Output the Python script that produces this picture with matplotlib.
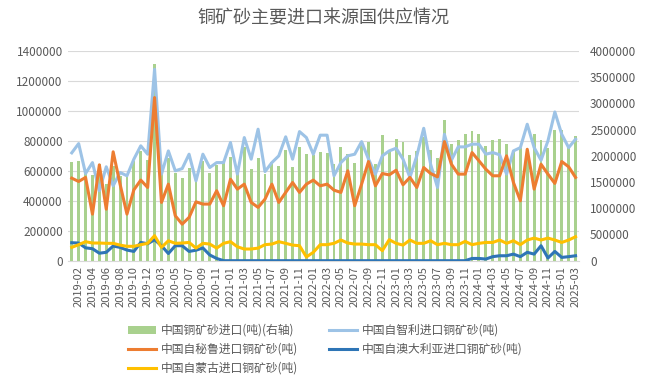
import matplotlib
matplotlib.use("Agg")
import matplotlib.pyplot as plt
import pandas as pd

plt.rcParams['font.family'] = ['Noto Sans CJK SC', 'DejaVu Sans']

# months, Jan+Feb 2020 reported together
months = [p.strftime('%Y-%m') for p in pd.period_range('2019-01', '2025-03', freq='M')]
months.remove('2020-01')

# 中国铜矿砂进口 (吨, 右轴)
total = [1880000, 1910000, 1650000, 1630000, 1850000, 1460000, 1800000, 1620000, 1600000, 1900000,
         2100000, 1920000, 3750000, 1700000, 1950000, 1670000, 1580000, 1770000, 1500000, 1900000,
         1670000, 1820000, 1910000, 1980000, 1660000, 2170000, 1750000, 1950000, 1660000, 1880000,
         1800000, 2110000, 1790000, 2170000, 2040000, 2010000, 2070000, 2050000, 1850000, 2160000,
         2040000, 1870000, 2230000, 2260000, 1850000, 2390000, 2110000, 2330000, 2260000, 2010000,
         2100000, 2360000, 2110000, 1950000, 2680000, 2220000, 2300000, 2420000, 2480000, 2420000,
         2180000, 2310000, 2330000, 2230000, 2100000, 2150000, 2120000, 2410000, 2300000, 2150000,
         2500000, 2500000, 2200000, 2370000]

chile = [720, 782, 582, 655, 467, 627, 500, 589, 567, 678,
         767, 711, 1278, 578, 733, 600, 615, 711, 533, 711,
         622, 655, 655, 789, 578, 822, 678, 878, 595, 655,
         700, 827, 678, 862, 822, 711, 838, 838, 567, 655,
         700, 711, 795, 678, 578, 700, 733, 751, 678, 556,
         700, 884, 644, 489, 844, 670, 760, 760, 778, 778,
         711, 722, 707, 578, 733, 755, 911, 755, 671, 800,
         993, 844, 755, 811]

peru = [551, 529, 556, 311, 640, 344, 727, 511, 311, 473,
        538, 489, 1089, 389, 511, 300, 244, 289, 393, 378,
        378, 467, 367, 544, 478, 511, 389, 356, 411, 511,
        389, 456, 522, 456, 511, 538, 500, 511, 471, 456,
        600, 367, 511, 662, 500, 582, 573, 604, 507, 556,
        489, 622, 582, 560, 795, 645, 578, 578, 722, 667,
        611, 567, 567, 700, 522, 400, 744, 478, 644, 578,
        516, 662, 627, 556]

australia = [120, 118, 86, 80, 50, 56, 98, 89, 71, 62,
             122, 113, 140, 100, 48, 100, 100, 62, 70, 85,
             38, 15, 0, 0, 0, 0, 0, 0, 0, 0,
             0, 0, 0, 0, 0, 0, 0, 0, 0, 0,
             0, 0, 0, 0, 0, 0, 0, 0, 0, 0,
             0, 0, 0, 0, 0, 0, 0, 0, 15, 15,
             11, 27, 33, 33, 44, 27, 56, 44, 100, 18,
             62, 22, 27, 33]

mongolia = [89, 107, 127, 118, 118, 116, 116, 104, 96, 96,
            107, 116, 167, 89, 133, 116, 118, 122, 84, 116,
            111, 84, 116, 127, 93, 78, 78, 84, 107, 111,
            127, 116, 104, 100, 25, 56, 107, 107, 116, 138,
            118, 111, 111, 107, 107, 67, 140, 116, 104, 138,
            116, 116, 133, 107, 116, 107, 107, 129, 107, 116,
            122, 122, 138, 116, 133, 107, 138, 151, 138, 151,
            138, 122, 138, 160]

# line series were read in thousand tonnes
chile = [v * 1000 for v in chile]
peru = [v * 1000 for v in peru]
australia = [v * 1000 for v in australia]
mongolia = [v * 1000 for v in mongolia]

grey = '#595959'
x = list(range(len(months)))

fig = plt.figure(figsize=(6.46, 3.89), dpi=100)
ax = fig.add_axes([68.3 / 646, 1 - 260.7 / 389, (579 - 68.3) / 646, (260.7 - 51) / 389])
ax_bar = ax.twinx()
ax_line = ax.twinx()

# grid + left scale
ax.set_ylim(0, 1400000)
ax.set_yticks(range(0, 1400001, 200000))
ax.ticklabel_format(axis='y', style='plain', useOffset=False)
ax.grid(axis='y', color='#D9D9D9', linewidth=0.8)
ax.tick_params(axis='y', length=0, labelsize=8.5, colors=grey, pad=4)

# bars on the right axis
bars = ax_bar.bar(x, total, width=0.42, color='#A9D18E', label='中国铜矿砂进口(吨)(右轴)')
ax_bar.set_ylim(0, 4000000)
ax_bar.set_yticks(range(0, 4000001, 500000))
ax_bar.ticklabel_format(axis='y', style='plain', useOffset=False)
ax_bar.tick_params(axis='y', length=0, labelsize=8.5, colors=grey, pad=8)

# lines on top, left scale
lw = 2.2
l_chile, = ax_line.plot(x, chile, color='#9DC3E6', lw=lw, label='中国自智利进口铜矿砂(吨)')
l_peru, = ax_line.plot(x, peru, color='#ED7D31', lw=lw, label='中国自秘鲁进口铜矿砂(吨)')
l_aus, = ax_line.plot(x, australia, color='#2E75B6', lw=lw, label='中国自澳大利亚进口铜矿砂(吨)')
l_mon, = ax_line.plot(x, mongolia, color='#FFC000', lw=lw, label='中国自蒙古进口铜矿砂(吨)')
ax_line.set_ylim(0, 1400000)
ax_line.set_yticks([])

for a in (ax, ax_bar, ax_line):
    for s in a.spines.values():
        s.set_visible(False)
    a.set_xlim(-0.5, len(months) - 0.5)
ax.spines['bottom'].set_visible(True)
ax.spines['bottom'].set_color('#D9D9D9')

ax.set_xticks(x[1::2])
ax.set_xticklabels(months[1::2], rotation=90, fontsize=8, color=grey)
ax.tick_params(axis='x', length=0, pad=4)

fig.text(0.5, 1 - 18 / 389, '铜矿砂主要进口来源国供应情况', ha='center', va='center',
         fontsize=13, color=grey)

handles = [bars, l_peru, l_mon, l_chile, l_aus]
leg = fig.legend(handles, [h.get_label() for h in handles], ncol=2, frameon=False,
                 loc='upper left', bbox_to_anchor=(128 / 646, 1 - 324 / 389),
                 fontsize=8.5, handlelength=2.4, handletextpad=0.4, columnspacing=2.6,
                 labelspacing=0.5, borderaxespad=0, borderpad=0)
for t in leg.get_texts():
    t.set_color(grey)

fig.savefig('out.png', dpi=100)
